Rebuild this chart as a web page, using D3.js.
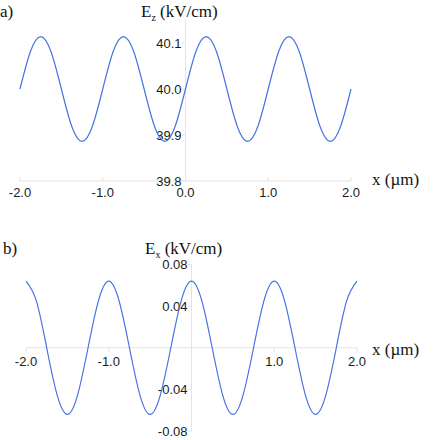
<!DOCTYPE html>
<html>
<head>
<meta charset="utf-8">
<script src="https://cdn.jsdelivr.net/npm/d3@7"></script>
<style>
    body { margin: 0; background: #fff; }
</style>
</head>
<body>
<div id="chart"></div>
<script>
// Two field profiles along x, panel a) Ez and panel b) Ex

// positions along x (um), every 1/8 um
const xPos = [-2.0, -1.875, -1.75, -1.625, -1.5, -1.375, -1.25, -1.125,
              -1.0, -0.875, -0.75, -0.625, -0.5, -0.375, -0.25, -0.125,
               0.0,  0.125,  0.25,  0.375,  0.5,  0.625,  0.75,  0.875,
               1.0,  1.125,  1.25,  1.375,  1.5,  1.625,  1.75,  1.875, 2.0];

// Ez (kV/cm)
const ezValues = [40.000, 40.081, 40.114, 40.081, 40.000, 39.919, 39.886, 39.919,
                  40.000, 40.081, 40.114, 40.081, 40.000, 39.919, 39.886, 39.919,
                  40.000, 40.081, 40.114, 40.081, 40.000, 39.919, 39.886, 39.919,
                  40.000, 40.081, 40.114, 40.081, 40.000, 39.919, 39.886, 39.919, 40.000];

// Ex (kV/cm)
const exValues = [0.064, 0.045, 0.000, -0.045, -0.064, -0.045, 0.000, 0.045,
                  0.064, 0.045, 0.000, -0.045, -0.064, -0.045, 0.000, 0.045,
                  0.064, 0.045, 0.000, -0.045, -0.064, -0.045, 0.000, 0.045,
                  0.064, 0.045, 0.000, -0.045, -0.064, -0.045, 0.000, 0.045, 0.064];

const xTicks = [-2.0, -1.0, 0.0, 1.0, 2.0];
const xTicksB = [-2.0, -1.0, 1.0, 2.0];
const ezTicks = [39.8, 39.9, 40.0, 40.1];
const exTicks = [-0.08, -0.04, 0.04, 0.08];

const lineColor = "#4673e2";
const axisColor = "#e4e4e4";
const sansFont = "Liberation Sans";
const serifFont = "Liberation Serif";

const svg = d3.select("#chart")
    .append("svg")
    .attr("width", 436)
    .attr("height", 440);

class WavePlot {
    constructor(opts){
        this.x = d3.scaleLinear().domain([-2, 2]).range([opts.left, opts.right]);
        this.y = d3.scaleLinear().domain(opts.yDomain).range(opts.yRange);
        let g = svg.append("g");

        // x axis line at yCross
        let yAxisPos = this.y(opts.yCross);
        g.append("line")
            .attr("x1", this.x(-2)).attr("x2", this.x(2))
            .attr("y1", yAxisPos).attr("y2", yAxisPos)
            .attr("stroke", axisColor);
        g.selectAll(".xtick")
            .data(opts.xTicks)
            .enter().append("line")
            .attr("x1", d => this.x(d)).attr("x2", d => this.x(d))
            .attr("y1", yAxisPos).attr("y2", yAxisPos + opts.xTickDir * 4)
            .attr("stroke", axisColor);
        g.selectAll(".xlab")
            .data(opts.xTicks)
            .enter().append("text")
            .attr("font-family", sansFont)
            .attr("font-size", 13)
            .attr("fill", "#1a1a1a")
            .attr("x", d => this.x(d))
            .attr("y", yAxisPos + opts.xLabelGap)
            .attr("text-anchor", "middle")
            .text(d => d.toFixed(1));

        // y axis line at x = 0
        let xAxisPos = this.x(0);
        g.append("line")
            .attr("x1", xAxisPos).attr("x2", xAxisPos)
            .attr("y1", this.y(opts.yDomain[0])).attr("y2", this.y(opts.yDomain[1]))
            .attr("stroke", axisColor);
        g.selectAll(".ytick")
            .data(opts.yTicks)
            .enter().append("line")
            .attr("x1", xAxisPos - 4).attr("x2", xAxisPos)
            .attr("y1", d => this.y(d)).attr("y2", d => this.y(d))
            .attr("stroke", axisColor);
        g.selectAll(".ylab")
            .data(opts.yTicks)
            .enter().append("text")
            .attr("font-family", sansFont)
            .attr("font-size", 13)
            .attr("fill", "#1a1a1a")
            .attr("x", xAxisPos - 4)
            .attr("y", d => this.y(d))
            .attr("dy", "0.36em")
            .attr("text-anchor", "end")
            .text(opts.yFormat);

        // curve
        let line = d3.line()
            .x((d, i) => this.x(xPos[i]))
            .y(d => this.y(d))
            .curve(d3.curveNatural);
        g.append("path")
            .attr("d", line(opts.values))
            .attr("fill", "none")
            .attr("stroke", lineColor)
            .attr("stroke-width", 1.2);

        // panel letter and titles
        g.append("text")
            .attr("font-family", serifFont).attr("font-size", 17).attr("fill", "#111")
            .attr("x", opts.letterX).attr("y", opts.titleY)
            .text(opts.letter);
        let t = g.append("text")
            .attr("font-family", serifFont).attr("font-size", 17).attr("fill", "#111")
            .attr("x", opts.titleX).attr("y", opts.titleY);
        t.append("tspan").text("E");
        t.append("tspan").attr("dy", 4).attr("font-size", 10).text(opts.sub);
        t.append("tspan").attr("dy", -4).text(" (kV/cm)");
        g.append("text")
            .attr("font-family", serifFont).attr("font-size", 17).attr("fill", "#111")
            .attr("x", 372).attr("y", opts.xTitleY)
            .text("x (\u00b5m)");
    }
}

new WavePlot({
    left: 20, right: 351,
    yDomain: [39.8, 40.15], yRange: [181, 20], yCross: 39.8,
    values: ezValues, xTicks: xTicks, yTicks: ezTicks,
    yFormat: d => d.toFixed(1),
    xTickDir: -1, xLabelGap: 16,
    letter: "a)", letterX: 0, titleX: 141, titleY: 17, sub: "z", xTitleY: 185
});

new WavePlot({
    left: 26, right: 357,
    yDomain: [-0.08, 0.08], yRange: [431, 264.5], yCross: 0,
    values: exValues, xTicks: xTicksB, yTicks: exTicks,
    yFormat: d => d.toFixed(2),
    xTickDir: 1, xLabelGap: 18,
    letter: "b)", letterX: 3, titleX: 145, titleY: 254, sub: "x", xTitleY: 355
});
</script>
</body>
</html>
